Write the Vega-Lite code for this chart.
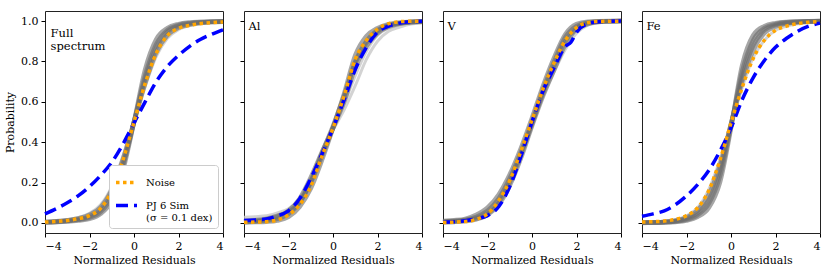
{
"$schema":"https://vega.github.io/schema/vega-lite/v6.json",
"padding":{"left":4,"top":10,"right":9,"bottom":4},
"bounds":"flush",
"spacing":21,
"config":{
"font":"DejaVu Serif",
"view":{"stroke":"#222","strokeWidth":1},
"axis":{"grid":false,"domain":false,"tickColor":"#000","tickSize":4,"labelFont":"DejaVu Serif","labelFontSize":11,"labelColor":"#000","titleFont":"DejaVu Serif","titleFontSize":11,"titleFontWeight":"normal","titleColor":"#000","labelPadding":3,"titlePadding":3},
"legend":{"labelFont":"DejaVu Serif","labelFontSize":10,"labelColor":"#000","symbolType":"stroke","symbolSize":441,"symbolStrokeWidth":3.5,"strokeColor":"#cccccc","fillColor":"#ffffff","padding":5,"cornerRadius":3,"rowPadding":3,"labelOffset":7,"labelLimit":200}
},
"datasets":{"d":[
{"p":"F","s":"g1","x":-4,"y":0.002},{"p":"F","s":"g1","x":-3.5,"y":0.004},{"p":"F","s":"g1","x":-3,"y":0.007},{"p":"F","s":"g1","x":-2.5,"y":0.012},{"p":"F","s":"g1","x":-2,"y":0.02},{"p":"F","s":"g1","x":-1.5,"y":0.045},{"p":"F","s":"g1","x":-1,"y":0.11},{"p":"F","s":"g1","x":-0.5,"y":0.26},{"p":"F","s":"g1","x":0,"y":0.5},{"p":"F","s":"g1","x":0.5,"y":0.76},{"p":"F","s":"g1","x":1,"y":0.91},{"p":"F","s":"g1","x":1.5,"y":0.965},{"p":"F","s":"g1","x":2,"y":0.985},{"p":"F","s":"g1","x":2.5,"y":0.993},{"p":"F","s":"g1","x":3,"y":0.996},{"p":"F","s":"g1","x":3.5,"y":0.998},{"p":"F","s":"g1","x":4,"y":0.999},
{"p":"F","s":"g2","x":-4,"y":0.003},{"p":"F","s":"g2","x":-3.5,"y":0.005},{"p":"F","s":"g2","x":-3,"y":0.009},{"p":"F","s":"g2","x":-2.5,"y":0.015},{"p":"F","s":"g2","x":-2,"y":0.026},{"p":"F","s":"g2","x":-1.5,"y":0.055},{"p":"F","s":"g2","x":-1,"y":0.13},{"p":"F","s":"g2","x":-0.5,"y":0.28},{"p":"F","s":"g2","x":0,"y":0.5},{"p":"F","s":"g2","x":0.5,"y":0.73},{"p":"F","s":"g2","x":1,"y":0.885},{"p":"F","s":"g2","x":1.5,"y":0.955},{"p":"F","s":"g2","x":2,"y":0.98},{"p":"F","s":"g2","x":2.5,"y":0.99},{"p":"F","s":"g2","x":3,"y":0.995},{"p":"F","s":"g2","x":3.5,"y":0.997},{"p":"F","s":"g2","x":4,"y":0.998},
{"p":"F","s":"g3","x":-4,"y":0.004},{"p":"F","s":"g3","x":-3.5,"y":0.006},{"p":"F","s":"g3","x":-3,"y":0.011},{"p":"F","s":"g3","x":-2.5,"y":0.018},{"p":"F","s":"g3","x":-2,"y":0.032},{"p":"F","s":"g3","x":-1.5,"y":0.065},{"p":"F","s":"g3","x":-1,"y":0.145},{"p":"F","s":"g3","x":-0.5,"y":0.295},{"p":"F","s":"g3","x":0,"y":0.5},{"p":"F","s":"g3","x":0.5,"y":0.71},{"p":"F","s":"g3","x":1,"y":0.865},{"p":"F","s":"g3","x":1.5,"y":0.945},{"p":"F","s":"g3","x":2,"y":0.975},{"p":"F","s":"g3","x":2.5,"y":0.987},{"p":"F","s":"g3","x":3,"y":0.993},{"p":"F","s":"g3","x":3.5,"y":0.996},{"p":"F","s":"g3","x":4,"y":0.998},
{"p":"F","s":"g4","x":-4,"y":0.005},{"p":"F","s":"g4","x":-3.5,"y":0.008},{"p":"F","s":"g4","x":-3,"y":0.013},{"p":"F","s":"g4","x":-2.5,"y":0.022},{"p":"F","s":"g4","x":-2,"y":0.04},{"p":"F","s":"g4","x":-1.5,"y":0.078},{"p":"F","s":"g4","x":-1,"y":0.165},{"p":"F","s":"g4","x":-0.5,"y":0.315},{"p":"F","s":"g4","x":0,"y":0.5},{"p":"F","s":"g4","x":0.5,"y":0.69},{"p":"F","s":"g4","x":1,"y":0.845},{"p":"F","s":"g4","x":1.5,"y":0.93},{"p":"F","s":"g4","x":2,"y":0.968},{"p":"F","s":"g4","x":2.5,"y":0.983},{"p":"F","s":"g4","x":3,"y":0.991},{"p":"F","s":"g4","x":3.5,"y":0.995},{"p":"F","s":"g4","x":4,"y":0.997},
{"p":"F","s":"l1","x":-4,"y":0.006},{"p":"F","s":"l1","x":-3.5,"y":0.01},{"p":"F","s":"l1","x":-3,"y":0.016},{"p":"F","s":"l1","x":-2.5,"y":0.027},{"p":"F","s":"l1","x":-2,"y":0.048},{"p":"F","s":"l1","x":-1.5,"y":0.09},{"p":"F","s":"l1","x":-1,"y":0.18},{"p":"F","s":"l1","x":-0.5,"y":0.33},{"p":"F","s":"l1","x":0,"y":0.5},{"p":"F","s":"l1","x":0.5,"y":0.675},{"p":"F","s":"l1","x":1,"y":0.825},{"p":"F","s":"l1","x":1.5,"y":0.915},{"p":"F","s":"l1","x":2,"y":0.958},{"p":"F","s":"l1","x":2.5,"y":0.978},{"p":"F","s":"l1","x":3,"y":0.988},{"p":"F","s":"l1","x":3.5,"y":0.993},{"p":"F","s":"l1","x":4,"y":0.996},
{"p":"F","s":"PJ 6 Sim","x":-4,"y":0.045},{"p":"F","s":"PJ 6 Sim","x":-3.5,"y":0.07},{"p":"F","s":"PJ 6 Sim","x":-3,"y":0.1},{"p":"F","s":"PJ 6 Sim","x":-2.5,"y":0.135},{"p":"F","s":"PJ 6 Sim","x":-2,"y":0.18},{"p":"F","s":"PJ 6 Sim","x":-1.5,"y":0.235},{"p":"F","s":"PJ 6 Sim","x":-1,"y":0.3},{"p":"F","s":"PJ 6 Sim","x":-0.5,"y":0.39},{"p":"F","s":"PJ 6 Sim","x":0,"y":0.495},{"p":"F","s":"PJ 6 Sim","x":0.5,"y":0.6},{"p":"F","s":"PJ 6 Sim","x":1,"y":0.7},{"p":"F","s":"PJ 6 Sim","x":1.5,"y":0.775},{"p":"F","s":"PJ 6 Sim","x":2,"y":0.83},{"p":"F","s":"PJ 6 Sim","x":2.5,"y":0.875},{"p":"F","s":"PJ 6 Sim","x":3,"y":0.91},{"p":"F","s":"PJ 6 Sim","x":3.5,"y":0.935},{"p":"F","s":"PJ 6 Sim","x":4,"y":0.957},
{"p":"F","s":"Noise","x":-4,"y":0.004},{"p":"F","s":"Noise","x":-3.5,"y":0.007},{"p":"F","s":"Noise","x":-3,"y":0.012},{"p":"F","s":"Noise","x":-2.5,"y":0.021},{"p":"F","s":"Noise","x":-2,"y":0.036},{"p":"F","s":"Noise","x":-1.5,"y":0.072},{"p":"F","s":"Noise","x":-1,"y":0.16},{"p":"F","s":"Noise","x":-0.5,"y":0.31},{"p":"F","s":"Noise","x":0,"y":0.5},{"p":"F","s":"Noise","x":0.5,"y":0.69},{"p":"F","s":"Noise","x":1,"y":0.84},{"p":"F","s":"Noise","x":1.5,"y":0.928},{"p":"F","s":"Noise","x":2,"y":0.964},{"p":"F","s":"Noise","x":2.5,"y":0.979},{"p":"F","s":"Noise","x":3,"y":0.988},{"p":"F","s":"Noise","x":3.5,"y":0.993},{"p":"F","s":"Noise","x":4,"y":0.996},

{"p":"A","s":"g1","x":-4,"y":0.002},{"p":"A","s":"g1","x":-3.5,"y":0.004},{"p":"A","s":"g1","x":-3,"y":0.006},{"p":"A","s":"g1","x":-2.5,"y":0.012},{"p":"A","s":"g1","x":-2,"y":0.03},{"p":"A","s":"g1","x":-1.5,"y":0.08},{"p":"A","s":"g1","x":-1,"y":0.17},{"p":"A","s":"g1","x":-0.5,"y":0.31},{"p":"A","s":"g1","x":0,"y":0.47},{"p":"A","s":"g1","x":0.5,"y":0.64},{"p":"A","s":"g1","x":1,"y":0.83},{"p":"A","s":"g1","x":1.5,"y":0.925},{"p":"A","s":"g1","x":2,"y":0.965},{"p":"A","s":"g1","x":2.5,"y":0.985},{"p":"A","s":"g1","x":3,"y":0.993},{"p":"A","s":"g1","x":3.5,"y":0.997},{"p":"A","s":"g1","x":4,"y":0.999},
{"p":"A","s":"g2","x":-4,"y":0.004},{"p":"A","s":"g2","x":-3.5,"y":0.007},{"p":"A","s":"g2","x":-3,"y":0.011},{"p":"A","s":"g2","x":-2.5,"y":0.02},{"p":"A","s":"g2","x":-2,"y":0.045},{"p":"A","s":"g2","x":-1.5,"y":0.1},{"p":"A","s":"g2","x":-1,"y":0.2},{"p":"A","s":"g2","x":-0.5,"y":0.33},{"p":"A","s":"g2","x":0,"y":0.47},{"p":"A","s":"g2","x":0.5,"y":0.62},{"p":"A","s":"g2","x":1,"y":0.8},{"p":"A","s":"g2","x":1.5,"y":0.9},{"p":"A","s":"g2","x":2,"y":0.955},{"p":"A","s":"g2","x":2.5,"y":0.98},{"p":"A","s":"g2","x":3,"y":0.99},{"p":"A","s":"g2","x":3.5,"y":0.996},{"p":"A","s":"g2","x":4,"y":0.998},
{"p":"A","s":"g3","x":-4,"y":0.007},{"p":"A","s":"g3","x":-3.5,"y":0.01},{"p":"A","s":"g3","x":-3,"y":0.016},{"p":"A","s":"g3","x":-2.5,"y":0.03},{"p":"A","s":"g3","x":-2,"y":0.06},{"p":"A","s":"g3","x":-1.5,"y":0.12},{"p":"A","s":"g3","x":-1,"y":0.225},{"p":"A","s":"g3","x":-0.5,"y":0.35},{"p":"A","s":"g3","x":0,"y":0.47},{"p":"A","s":"g3","x":0.5,"y":0.6},{"p":"A","s":"g3","x":1,"y":0.77},{"p":"A","s":"g3","x":1.5,"y":0.875},{"p":"A","s":"g3","x":2,"y":0.94},{"p":"A","s":"g3","x":2.5,"y":0.972},{"p":"A","s":"g3","x":3,"y":0.987},{"p":"A","s":"g3","x":3.5,"y":0.994},{"p":"A","s":"g3","x":4,"y":0.997},
{"p":"A","s":"g4","x":-4,"y":0.01},{"p":"A","s":"g4","x":-3.5,"y":0.013},{"p":"A","s":"g4","x":-3,"y":0.02},{"p":"A","s":"g4","x":-2.5,"y":0.035},{"p":"A","s":"g4","x":-2,"y":0.055},{"p":"A","s":"g4","x":-1.5,"y":0.105},{"p":"A","s":"g4","x":-1,"y":0.205},{"p":"A","s":"g4","x":-0.5,"y":0.345},{"p":"A","s":"g4","x":0,"y":0.48},{"p":"A","s":"g4","x":0.5,"y":0.63},{"p":"A","s":"g4","x":1,"y":0.79},{"p":"A","s":"g4","x":1.5,"y":0.89},{"p":"A","s":"g4","x":2,"y":0.95},{"p":"A","s":"g4","x":2.5,"y":0.978},{"p":"A","s":"g4","x":3,"y":0.99},{"p":"A","s":"g4","x":3.5,"y":0.995},{"p":"A","s":"g4","x":4,"y":0.998},
{"p":"A","s":"l1","x":-4,"y":0.028},{"p":"A","s":"l1","x":-3.5,"y":0.031},{"p":"A","s":"l1","x":-3,"y":0.035},{"p":"A","s":"l1","x":-2.5,"y":0.05},{"p":"A","s":"l1","x":-2,"y":0.07},{"p":"A","s":"l1","x":-1.5,"y":0.12},{"p":"A","s":"l1","x":-1,"y":0.22},{"p":"A","s":"l1","x":-0.5,"y":0.35},{"p":"A","s":"l1","x":0,"y":0.46},{"p":"A","s":"l1","x":0.5,"y":0.56},{"p":"A","s":"l1","x":1,"y":0.68},{"p":"A","s":"l1","x":1.5,"y":0.81},{"p":"A","s":"l1","x":2,"y":0.9},{"p":"A","s":"l1","x":2.5,"y":0.95},{"p":"A","s":"l1","x":3,"y":0.97},{"p":"A","s":"l1","x":3.5,"y":0.985},{"p":"A","s":"l1","x":4,"y":0.99},
{"p":"A","s":"l2","x":-4,"y":0.015},{"p":"A","s":"l2","x":-3.5,"y":0.02},{"p":"A","s":"l2","x":-3,"y":0.028},{"p":"A","s":"l2","x":-2.5,"y":0.04},{"p":"A","s":"l2","x":-2,"y":0.065},{"p":"A","s":"l2","x":-1.5,"y":0.11},{"p":"A","s":"l2","x":-1,"y":0.21},{"p":"A","s":"l2","x":-0.5,"y":0.34},{"p":"A","s":"l2","x":0,"y":0.47},{"p":"A","s":"l2","x":0.5,"y":0.59},{"p":"A","s":"l2","x":1,"y":0.73},{"p":"A","s":"l2","x":1.5,"y":0.85},{"p":"A","s":"l2","x":2,"y":0.93},{"p":"A","s":"l2","x":2.5,"y":0.965},{"p":"A","s":"l2","x":3,"y":0.982},{"p":"A","s":"l2","x":3.5,"y":0.99},{"p":"A","s":"l2","x":4,"y":0.995},
{"p":"A","s":"PJ 6 Sim","x":-4,"y":0.012},{"p":"A","s":"PJ 6 Sim","x":-3.5,"y":0.015},{"p":"A","s":"PJ 6 Sim","x":-3,"y":0.02},{"p":"A","s":"PJ 6 Sim","x":-2.5,"y":0.035},{"p":"A","s":"PJ 6 Sim","x":-2,"y":0.06},{"p":"A","s":"PJ 6 Sim","x":-1.5,"y":0.12},{"p":"A","s":"PJ 6 Sim","x":-1,"y":0.22},{"p":"A","s":"PJ 6 Sim","x":-0.5,"y":0.34},{"p":"A","s":"PJ 6 Sim","x":0,"y":0.47},{"p":"A","s":"PJ 6 Sim","x":0.5,"y":0.61},{"p":"A","s":"PJ 6 Sim","x":1,"y":0.76},{"p":"A","s":"PJ 6 Sim","x":1.5,"y":0.87},{"p":"A","s":"PJ 6 Sim","x":2,"y":0.945},{"p":"A","s":"PJ 6 Sim","x":2.5,"y":0.975},{"p":"A","s":"PJ 6 Sim","x":3,"y":0.99},{"p":"A","s":"PJ 6 Sim","x":3.5,"y":0.997},{"p":"A","s":"PJ 6 Sim","x":4,"y":0.999},
{"p":"A","s":"Noise","x":-4,"y":0.003},{"p":"A","s":"Noise","x":-3.5,"y":0.004},{"p":"A","s":"Noise","x":-3,"y":0.006},{"p":"A","s":"Noise","x":-2.5,"y":0.015},{"p":"A","s":"Noise","x":-2,"y":0.04},{"p":"A","s":"Noise","x":-1.5,"y":0.09},{"p":"A","s":"Noise","x":-1,"y":0.18},{"p":"A","s":"Noise","x":-0.5,"y":0.33},{"p":"A","s":"Noise","x":0,"y":0.47},{"p":"A","s":"Noise","x":0.5,"y":0.63},{"p":"A","s":"Noise","x":1,"y":0.81},{"p":"A","s":"Noise","x":1.5,"y":0.905},{"p":"A","s":"Noise","x":2,"y":0.96},{"p":"A","s":"Noise","x":2.5,"y":0.987},{"p":"A","s":"Noise","x":3,"y":0.997},{"p":"A","s":"Noise","x":3.5,"y":0.999},{"p":"A","s":"Noise","x":4,"y":1},

{"p":"V","s":"g1","x":-4,"y":0.01},{"p":"V","s":"g1","x":-3.5,"y":0.013},{"p":"V","s":"g1","x":-3,"y":0.02},{"p":"V","s":"g1","x":-2.5,"y":0.04},{"p":"V","s":"g1","x":-2,"y":0.075},{"p":"V","s":"g1","x":-1.5,"y":0.14},{"p":"V","s":"g1","x":-1,"y":0.24},{"p":"V","s":"g1","x":-0.5,"y":0.37},{"p":"V","s":"g1","x":0,"y":0.52},{"p":"V","s":"g1","x":0.5,"y":0.68},{"p":"V","s":"g1","x":1,"y":0.82},{"p":"V","s":"g1","x":1.5,"y":0.935},{"p":"V","s":"g1","x":2,"y":0.985},{"p":"V","s":"g1","x":2.5,"y":0.997},{"p":"V","s":"g1","x":3,"y":0.999},{"p":"V","s":"g1","x":3.5,"y":1},{"p":"V","s":"g1","x":4,"y":1},
{"p":"V","s":"g2","x":-4,"y":0.006},{"p":"V","s":"g2","x":-3.5,"y":0.01},{"p":"V","s":"g2","x":-3,"y":0.015},{"p":"V","s":"g2","x":-2.5,"y":0.03},{"p":"V","s":"g2","x":-2,"y":0.06},{"p":"V","s":"g2","x":-1.5,"y":0.12},{"p":"V","s":"g2","x":-1,"y":0.22},{"p":"V","s":"g2","x":-0.5,"y":0.35},{"p":"V","s":"g2","x":0,"y":0.5},{"p":"V","s":"g2","x":0.5,"y":0.66},{"p":"V","s":"g2","x":1,"y":0.8},{"p":"V","s":"g2","x":1.5,"y":0.92},{"p":"V","s":"g2","x":2,"y":0.975},{"p":"V","s":"g2","x":2.5,"y":0.993},{"p":"V","s":"g2","x":3,"y":0.998},{"p":"V","s":"g2","x":3.5,"y":0.999},{"p":"V","s":"g2","x":4,"y":1},
{"p":"V","s":"g3","x":-4,"y":0.004},{"p":"V","s":"g3","x":-3.5,"y":0.007},{"p":"V","s":"g3","x":-3,"y":0.011},{"p":"V","s":"g3","x":-2.5,"y":0.022},{"p":"V","s":"g3","x":-2,"y":0.045},{"p":"V","s":"g3","x":-1.5,"y":0.1},{"p":"V","s":"g3","x":-1,"y":0.2},{"p":"V","s":"g3","x":-0.5,"y":0.335},{"p":"V","s":"g3","x":0,"y":0.49},{"p":"V","s":"g3","x":0.5,"y":0.645},{"p":"V","s":"g3","x":1,"y":0.78},{"p":"V","s":"g3","x":1.5,"y":0.9},{"p":"V","s":"g3","x":2,"y":0.965},{"p":"V","s":"g3","x":2.5,"y":0.99},{"p":"V","s":"g3","x":3,"y":0.997},{"p":"V","s":"g3","x":3.5,"y":0.999},{"p":"V","s":"g3","x":4,"y":1},
{"p":"V","s":"g4","x":-4,"y":0.003},{"p":"V","s":"g4","x":-3.5,"y":0.005},{"p":"V","s":"g4","x":-3,"y":0.009},{"p":"V","s":"g4","x":-2.5,"y":0.018},{"p":"V","s":"g4","x":-2,"y":0.04},{"p":"V","s":"g4","x":-1.5,"y":0.09},{"p":"V","s":"g4","x":-1,"y":0.185},{"p":"V","s":"g4","x":-0.5,"y":0.32},{"p":"V","s":"g4","x":0,"y":0.48},{"p":"V","s":"g4","x":0.5,"y":0.63},{"p":"V","s":"g4","x":1,"y":0.76},{"p":"V","s":"g4","x":1.5,"y":0.885},{"p":"V","s":"g4","x":2,"y":0.96},{"p":"V","s":"g4","x":2.5,"y":0.985},{"p":"V","s":"g4","x":3,"y":0.995},{"p":"V","s":"g4","x":3.5,"y":0.999},{"p":"V","s":"g4","x":4,"y":1},
{"p":"V","s":"l1","x":-4,"y":0.008},{"p":"V","s":"l1","x":-3.5,"y":0.012},{"p":"V","s":"l1","x":-3,"y":0.018},{"p":"V","s":"l1","x":-2.5,"y":0.03},{"p":"V","s":"l1","x":-2,"y":0.055},{"p":"V","s":"l1","x":-1.5,"y":0.11},{"p":"V","s":"l1","x":-1,"y":0.21},{"p":"V","s":"l1","x":-0.5,"y":0.34},{"p":"V","s":"l1","x":0,"y":0.49},{"p":"V","s":"l1","x":0.5,"y":0.63},{"p":"V","s":"l1","x":1,"y":0.75},{"p":"V","s":"l1","x":1.5,"y":0.86},{"p":"V","s":"l1","x":2,"y":0.94},{"p":"V","s":"l1","x":2.5,"y":0.98},{"p":"V","s":"l1","x":3,"y":0.995},{"p":"V","s":"l1","x":3.5,"y":0.999},{"p":"V","s":"l1","x":4,"y":1},
{"p":"V","s":"PJ 6 Sim","x":-4,"y":0.003},{"p":"V","s":"PJ 6 Sim","x":-3.5,"y":0.006},{"p":"V","s":"PJ 6 Sim","x":-3,"y":0.011},{"p":"V","s":"PJ 6 Sim","x":-2.5,"y":0.02},{"p":"V","s":"PJ 6 Sim","x":-2,"y":0.036},{"p":"V","s":"PJ 6 Sim","x":-1.5,"y":0.08},{"p":"V","s":"PJ 6 Sim","x":-1,"y":0.18},{"p":"V","s":"PJ 6 Sim","x":-0.5,"y":0.33},{"p":"V","s":"PJ 6 Sim","x":0,"y":0.5},{"p":"V","s":"PJ 6 Sim","x":0.5,"y":0.655},{"p":"V","s":"PJ 6 Sim","x":1,"y":0.77},{"p":"V","s":"PJ 6 Sim","x":1.5,"y":0.875},{"p":"V","s":"PJ 6 Sim","x":1.75,"y":0.895},{"p":"V","s":"PJ 6 Sim","x":2,"y":0.945},{"p":"V","s":"PJ 6 Sim","x":2.5,"y":0.987},{"p":"V","s":"PJ 6 Sim","x":3,"y":0.997},{"p":"V","s":"PJ 6 Sim","x":3.5,"y":0.999},{"p":"V","s":"PJ 6 Sim","x":4,"y":1},
{"p":"V","s":"Noise","x":-4,"y":0.002},{"p":"V","s":"Noise","x":-3.5,"y":0.004},{"p":"V","s":"Noise","x":-3,"y":0.007},{"p":"V","s":"Noise","x":-2.5,"y":0.018},{"p":"V","s":"Noise","x":-2,"y":0.045},{"p":"V","s":"Noise","x":-1.5,"y":0.11},{"p":"V","s":"Noise","x":-1,"y":0.21},{"p":"V","s":"Noise","x":-0.5,"y":0.355},{"p":"V","s":"Noise","x":0,"y":0.51},{"p":"V","s":"Noise","x":0.5,"y":0.665},{"p":"V","s":"Noise","x":1,"y":0.795},{"p":"V","s":"Noise","x":1.5,"y":0.905},{"p":"V","s":"Noise","x":2,"y":0.968},{"p":"V","s":"Noise","x":2.5,"y":0.992},{"p":"V","s":"Noise","x":3,"y":0.998},{"p":"V","s":"Noise","x":3.5,"y":0.999},{"p":"V","s":"Noise","x":4,"y":1},

{"p":"E","s":"g1","x":-4,"y":0},{"p":"E","s":"g1","x":-3.5,"y":0.001},{"p":"E","s":"g1","x":-3,"y":0.002},{"p":"E","s":"g1","x":-2.5,"y":0.005},{"p":"E","s":"g1","x":-2,"y":0.012},{"p":"E","s":"g1","x":-1.5,"y":0.03},{"p":"E","s":"g1","x":-1,"y":0.075},{"p":"E","s":"g1","x":-0.5,"y":0.2},{"p":"E","s":"g1","x":0,"y":0.47},{"p":"E","s":"g1","x":0.5,"y":0.78},{"p":"E","s":"g1","x":1,"y":0.93},{"p":"E","s":"g1","x":1.5,"y":0.975},{"p":"E","s":"g1","x":2,"y":0.99},{"p":"E","s":"g1","x":2.5,"y":0.996},{"p":"E","s":"g1","x":3,"y":0.998},{"p":"E","s":"g1","x":3.5,"y":0.999},{"p":"E","s":"g1","x":4,"y":1},
{"p":"E","s":"g2","x":-4,"y":0.001},{"p":"E","s":"g2","x":-3.5,"y":0.002},{"p":"E","s":"g2","x":-3,"y":0.003},{"p":"E","s":"g2","x":-2.5,"y":0.007},{"p":"E","s":"g2","x":-2,"y":0.016},{"p":"E","s":"g2","x":-1.5,"y":0.04},{"p":"E","s":"g2","x":-1,"y":0.095},{"p":"E","s":"g2","x":-0.5,"y":0.23},{"p":"E","s":"g2","x":0,"y":0.48},{"p":"E","s":"g2","x":0.5,"y":0.75},{"p":"E","s":"g2","x":1,"y":0.905},{"p":"E","s":"g2","x":1.5,"y":0.965},{"p":"E","s":"g2","x":2,"y":0.985},{"p":"E","s":"g2","x":2.5,"y":0.994},{"p":"E","s":"g2","x":3,"y":0.997},{"p":"E","s":"g2","x":3.5,"y":0.999},{"p":"E","s":"g2","x":4,"y":1},
{"p":"E","s":"g3","x":-4,"y":0.001},{"p":"E","s":"g3","x":-3.5,"y":0.002},{"p":"E","s":"g3","x":-3,"y":0.004},{"p":"E","s":"g3","x":-2.5,"y":0.009},{"p":"E","s":"g3","x":-2,"y":0.021},{"p":"E","s":"g3","x":-1.5,"y":0.05},{"p":"E","s":"g3","x":-1,"y":0.115},{"p":"E","s":"g3","x":-0.5,"y":0.26},{"p":"E","s":"g3","x":0,"y":0.49},{"p":"E","s":"g3","x":0.5,"y":0.72},{"p":"E","s":"g3","x":1,"y":0.88},{"p":"E","s":"g3","x":1.5,"y":0.955},{"p":"E","s":"g3","x":2,"y":0.98},{"p":"E","s":"g3","x":2.5,"y":0.991},{"p":"E","s":"g3","x":3,"y":0.996},{"p":"E","s":"g3","x":3.5,"y":0.998},{"p":"E","s":"g3","x":4,"y":0.999},
{"p":"E","s":"g4","x":-4,"y":0.002},{"p":"E","s":"g4","x":-3.5,"y":0.003},{"p":"E","s":"g4","x":-3,"y":0.005},{"p":"E","s":"g4","x":-2.5,"y":0.011},{"p":"E","s":"g4","x":-2,"y":0.026},{"p":"E","s":"g4","x":-1.5,"y":0.062},{"p":"E","s":"g4","x":-1,"y":0.14},{"p":"E","s":"g4","x":-0.5,"y":0.285},{"p":"E","s":"g4","x":0,"y":0.49},{"p":"E","s":"g4","x":0.5,"y":0.7},{"p":"E","s":"g4","x":1,"y":0.855},{"p":"E","s":"g4","x":1.5,"y":0.94},{"p":"E","s":"g4","x":2,"y":0.974},{"p":"E","s":"g4","x":2.5,"y":0.988},{"p":"E","s":"g4","x":3,"y":0.994},{"p":"E","s":"g4","x":3.5,"y":0.997},{"p":"E","s":"g4","x":4,"y":0.999},
{"p":"E","s":"l1","x":-4,"y":0.003},{"p":"E","s":"l1","x":-3.5,"y":0.005},{"p":"E","s":"l1","x":-3,"y":0.008},{"p":"E","s":"l1","x":-2.5,"y":0.016},{"p":"E","s":"l1","x":-2,"y":0.035},{"p":"E","s":"l1","x":-1.5,"y":0.075},{"p":"E","s":"l1","x":-1,"y":0.165},{"p":"E","s":"l1","x":-0.5,"y":0.31},{"p":"E","s":"l1","x":0,"y":0.49},{"p":"E","s":"l1","x":0.5,"y":0.67},{"p":"E","s":"l1","x":1,"y":0.82},{"p":"E","s":"l1","x":1.5,"y":0.905},{"p":"E","s":"l1","x":2,"y":0.955},{"p":"E","s":"l1","x":2.5,"y":0.975},{"p":"E","s":"l1","x":3,"y":0.987},{"p":"E","s":"l1","x":3.5,"y":0.993},{"p":"E","s":"l1","x":4,"y":0.997},
{"p":"E","s":"PJ 6 Sim","x":-4,"y":0.033},{"p":"E","s":"PJ 6 Sim","x":-3.5,"y":0.045},{"p":"E","s":"PJ 6 Sim","x":-3,"y":0.06},{"p":"E","s":"PJ 6 Sim","x":-2.5,"y":0.09},{"p":"E","s":"PJ 6 Sim","x":-2,"y":0.134},{"p":"E","s":"PJ 6 Sim","x":-1.5,"y":0.19},{"p":"E","s":"PJ 6 Sim","x":-1,"y":0.26},{"p":"E","s":"PJ 6 Sim","x":-0.5,"y":0.355},{"p":"E","s":"PJ 6 Sim","x":0,"y":0.47},{"p":"E","s":"PJ 6 Sim","x":0.5,"y":0.61},{"p":"E","s":"PJ 6 Sim","x":1,"y":0.72},{"p":"E","s":"PJ 6 Sim","x":1.5,"y":0.805},{"p":"E","s":"PJ 6 Sim","x":2,"y":0.87},{"p":"E","s":"PJ 6 Sim","x":2.5,"y":0.915},{"p":"E","s":"PJ 6 Sim","x":3,"y":0.95},{"p":"E","s":"PJ 6 Sim","x":3.5,"y":0.975},{"p":"E","s":"PJ 6 Sim","x":4,"y":0.99},
{"p":"E","s":"Noise","x":-4,"y":0.004},{"p":"E","s":"Noise","x":-3.5,"y":0.006},{"p":"E","s":"Noise","x":-3,"y":0.009},{"p":"E","s":"Noise","x":-2.5,"y":0.018},{"p":"E","s":"Noise","x":-2,"y":0.036},{"p":"E","s":"Noise","x":-1.5,"y":0.075},{"p":"E","s":"Noise","x":-1,"y":0.16},{"p":"E","s":"Noise","x":-0.5,"y":0.31},{"p":"E","s":"Noise","x":0,"y":0.495},{"p":"E","s":"Noise","x":0.5,"y":0.67},{"p":"E","s":"Noise","x":1,"y":0.815},{"p":"E","s":"Noise","x":1.5,"y":0.905},{"p":"E","s":"Noise","x":2,"y":0.954},{"p":"E","s":"Noise","x":2.5,"y":0.975},{"p":"E","s":"Noise","x":3,"y":0.987},{"p":"E","s":"Noise","x":3.5,"y":0.994},{"p":"E","s":"Noise","x":4,"y":0.998}
]},
"hconcat":[
{"width":178,"height":222,
"layer":[
{"data":{"name":"d"},"transform":[{"filter":"datum.p == 'F' && test(/^l/, datum.s)"}],"mark":{"type":"line","color":"#c8c8c8","opacity":0.8,"strokeWidth":3,"interpolate":"monotone"},"encoding":{"x":{"field":"x","type":"quantitative","scale":{"domain":[-4,4],"nice":false,"zero":false},"axis":{"values":[-4,-2,0,2,4],"title":"Normalized Residuals"}},"y":{"field":"y","type":"quantitative","scale":{"domain":[-0.05,1.05],"nice":false,"zero":false},"axis":{"values":[0,0.2,0.4,0.6,0.8,1],"format":".1f","title":"Probability","titlePadding":5}},"detail":{"field":"s"}}},
{"data":{"name":"d"},"transform":[{"filter":"datum.p == 'F' && test(/^g/, datum.s)"}],"mark":{"type":"line","color":"#6a6a6a","opacity":0.6,"strokeWidth":4.5,"interpolate":"monotone"},"encoding":{"x":{"field":"x","type":"quantitative"},"y":{"field":"y","type":"quantitative"},"detail":{"field":"s"}}},
{"data":{"name":"d"},"transform":[{"filter":"datum.p == 'F' && (datum.s == 'Noise' || datum.s == 'PJ 6 Sim')"}],"mark":{"type":"line","strokeWidth":3.5,"interpolate":"monotone"},"encoding":{"x":{"field":"x","type":"quantitative"},"y":{"field":"y","type":"quantitative"},
"color":{"field":"s","type":"nominal","scale":{"domain":["Noise","PJ 6 Sim"],"range":["#FFA500","#0000FF"]},"legend":{"title":null,"orient":"bottom-right","offset":5,"labelExpr":"datum.label == 'PJ 6 Sim' ? ['PJ 6 Sim', ' (σ = 0.1 dex)'] : datum.label"}},
"strokeDash":{"field":"s","type":"nominal","scale":{"domain":["Noise","PJ 6 Sim"],"range":[[3.5,3.5],[12,6]]},"legend":{"title":null,"orient":"bottom-right","offset":5,"labelExpr":"datum.label == 'PJ 6 Sim' ? ['PJ 6 Sim', ' (σ = 0.1 dex)'] : datum.label"}}}},
{"data":{"values":[{"t":["Full","spectrum"]}]},"mark":{"type":"text","align":"left","baseline":"top","fontSize":11.5,"lineHeight":13,"font":"DejaVu Serif","color":"#000"},"encoding":{"x":{"datum":-3.75},"y":{"datum":0.965},"text":{"field":"t"}}}
]},
{"width":178,"height":222,
"layer":[
{"data":{"name":"d"},"transform":[{"filter":"datum.p == 'A' && test(/^l/, datum.s)"}],"mark":{"type":"line","color":"#c8c8c8","opacity":0.8,"strokeWidth":3,"interpolate":"monotone"},"encoding":{"x":{"field":"x","type":"quantitative","scale":{"domain":[-4,4],"nice":false,"zero":false},"axis":{"values":[-4,-2,0,2,4],"title":"Normalized Residuals"}},"y":{"field":"y","type":"quantitative","scale":{"domain":[-0.05,1.05],"nice":false,"zero":false},"axis":{"values":[0,0.2,0.4,0.6,0.8,1],"labels":false,"title":null}},"detail":{"field":"s"}}},
{"data":{"name":"d"},"transform":[{"filter":"datum.p == 'A' && test(/^g/, datum.s)"}],"mark":{"type":"line","color":"#6a6a6a","opacity":0.6,"strokeWidth":4.5,"interpolate":"monotone"},"encoding":{"x":{"field":"x","type":"quantitative"},"y":{"field":"y","type":"quantitative"},"detail":{"field":"s"}}},
{"data":{"name":"d"},"transform":[{"filter":"datum.p == 'A' && (datum.s == 'Noise' || datum.s == 'PJ 6 Sim')"}],"mark":{"type":"line","strokeWidth":3.5,"interpolate":"monotone"},"encoding":{"x":{"field":"x","type":"quantitative"},"y":{"field":"y","type":"quantitative"},
"color":{"field":"s","type":"nominal","scale":{"domain":["Noise","PJ 6 Sim"],"range":["#FFA500","#0000FF"]},"legend":null},
"strokeDash":{"field":"s","type":"nominal","scale":{"domain":["Noise","PJ 6 Sim"],"range":[[3.5,3.5],[12,6]]},"legend":null}}},
{"data":{"values":[{"t":"Al"}]},"mark":{"type":"text","align":"left","baseline":"top","fontSize":11.5,"font":"DejaVu Serif","color":"#000"},"encoding":{"x":{"datum":-3.8},"y":{"datum":1.0},"text":{"field":"t"}}}
]},
{"width":178,"height":222,
"layer":[
{"data":{"name":"d"},"transform":[{"filter":"datum.p == 'V' && test(/^l/, datum.s)"}],"mark":{"type":"line","color":"#c8c8c8","opacity":0.8,"strokeWidth":3,"interpolate":"monotone"},"encoding":{"x":{"field":"x","type":"quantitative","scale":{"domain":[-4,4],"nice":false,"zero":false},"axis":{"values":[-4,-2,0,2,4],"title":"Normalized Residuals"}},"y":{"field":"y","type":"quantitative","scale":{"domain":[-0.05,1.05],"nice":false,"zero":false},"axis":{"values":[0,0.2,0.4,0.6,0.8,1],"labels":false,"title":null}},"detail":{"field":"s"}}},
{"data":{"name":"d"},"transform":[{"filter":"datum.p == 'V' && test(/^g/, datum.s)"}],"mark":{"type":"line","color":"#6a6a6a","opacity":0.6,"strokeWidth":4.5,"interpolate":"monotone"},"encoding":{"x":{"field":"x","type":"quantitative"},"y":{"field":"y","type":"quantitative"},"detail":{"field":"s"}}},
{"data":{"name":"d"},"transform":[{"filter":"datum.p == 'V' && (datum.s == 'Noise' || datum.s == 'PJ 6 Sim')"}],"mark":{"type":"line","strokeWidth":3.5,"interpolate":"monotone"},"encoding":{"x":{"field":"x","type":"quantitative"},"y":{"field":"y","type":"quantitative"},
"color":{"field":"s","type":"nominal","scale":{"domain":["Noise","PJ 6 Sim"],"range":["#FFA500","#0000FF"]},"legend":null},
"strokeDash":{"field":"s","type":"nominal","scale":{"domain":["Noise","PJ 6 Sim"],"range":[[3.5,3.5],[12,6]]},"legend":null}}},
{"data":{"values":[{"t":"V"}]},"mark":{"type":"text","align":"left","baseline":"top","fontSize":11.5,"font":"DejaVu Serif","color":"#000"},"encoding":{"x":{"datum":-3.8},"y":{"datum":1.0},"text":{"field":"t"}}}
]},
{"width":178,"height":222,
"layer":[
{"data":{"name":"d"},"transform":[{"filter":"datum.p == 'E' && test(/^l/, datum.s)"}],"mark":{"type":"line","color":"#c8c8c8","opacity":0.8,"strokeWidth":3,"interpolate":"monotone"},"encoding":{"x":{"field":"x","type":"quantitative","scale":{"domain":[-4,4],"nice":false,"zero":false},"axis":{"values":[-4,-2,0,2,4],"title":"Normalized Residuals"}},"y":{"field":"y","type":"quantitative","scale":{"domain":[-0.05,1.05],"nice":false,"zero":false},"axis":{"values":[0,0.2,0.4,0.6,0.8,1],"labels":false,"title":null}},"detail":{"field":"s"}}},
{"data":{"name":"d"},"transform":[{"filter":"datum.p == 'E' && test(/^g/, datum.s)"}],"mark":{"type":"line","color":"#6a6a6a","opacity":0.6,"strokeWidth":4.5,"interpolate":"monotone"},"encoding":{"x":{"field":"x","type":"quantitative"},"y":{"field":"y","type":"quantitative"},"detail":{"field":"s"}}},
{"data":{"name":"d"},"transform":[{"filter":"datum.p == 'E' && (datum.s == 'Noise' || datum.s == 'PJ 6 Sim')"}],"mark":{"type":"line","strokeWidth":3.5,"interpolate":"monotone"},"encoding":{"x":{"field":"x","type":"quantitative"},"y":{"field":"y","type":"quantitative"},
"color":{"field":"s","type":"nominal","scale":{"domain":["Noise","PJ 6 Sim"],"range":["#FFA500","#0000FF"]},"legend":null},
"strokeDash":{"field":"s","type":"nominal","scale":{"domain":["Noise","PJ 6 Sim"],"range":[[3.5,3.5],[12,6]]},"legend":null}}},
{"data":{"values":[{"t":"Fe"}]},"mark":{"type":"text","align":"left","baseline":"top","fontSize":11.5,"font":"DejaVu Serif","color":"#000"},"encoding":{"x":{"datum":-3.8},"y":{"datum":1.0},"text":{"field":"t"}}}
]}
],
"resolve":{"scale":{"x":"independent","y":"independent","color":"independent","strokeDash":"independent"},"legend":{"color":"independent","strokeDash":"independent"}}
}
